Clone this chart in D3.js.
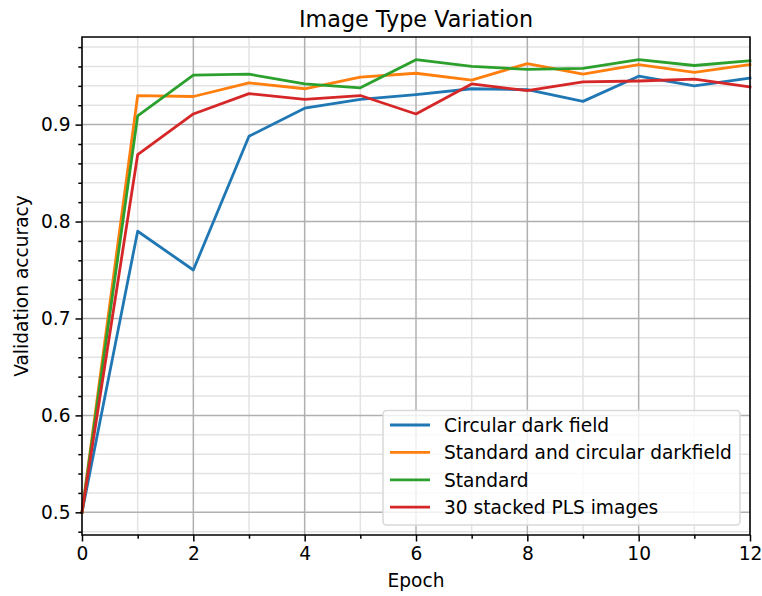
<!DOCTYPE html>
<html>
<head>
<meta charset="utf-8">
<script src="https://cdn.jsdelivr.net/npm/d3@7"></script>
<style>
  body { margin: 0; background: #fff; }
  svg { display: block; font-family: "DejaVu Sans", sans-serif; }
</style>
</head>
<body>
<svg width="762" height="596"></svg>
<script>
var epochs = [0, 1, 2, 3, 4, 5, 6, 7, 8, 9, 10, 11, 12];
var circularDark = [0.5, 0.790, 0.750, 0.888, 0.917, 0.926, 0.931, 0.937, 0.936, 0.924, 0.950, 0.940, 0.948];
var standardAndCircular = [0.5, 0.930, 0.929, 0.943, 0.937, 0.949, 0.953, 0.946, 0.963, 0.952, 0.962, 0.954, 0.962];
var standard = [0.5, 0.909, 0.951, 0.952, 0.942, 0.938, 0.967, 0.960, 0.957, 0.958, 0.967, 0.961, 0.966];
var stackedPLS = [0.5, 0.869, 0.911, 0.932, 0.926, 0.930, 0.911, 0.942, 0.935, 0.944, 0.945, 0.947, 0.939];
var seriesNames = ["Circular dark field", "Standard and circular darkfield", "Standard", "30 stacked PLS images"];
var seriesColors = ["#1f77b4", "#ff7f0e", "#2ca02c", "#d62728"];
var xTicks = [0, 2, 4, 6, 8, 10, 12];
var yTicks = [0.5, 0.6, 0.7, 0.8, 0.9];

var svg = d3.select("svg");
var mLeft = 82, mRight = 750, mTop = 37, mBottom = 535;
var fs = 18.6;

var x = d3.scaleLinear().domain([0, 12]).range([mLeft, mRight]);
var y = d3.scaleLinear().domain([0.4766, 0.9904]).range([mBottom, mTop]);

var allSeries = [circularDark, standardAndCircular, standard, stackedPLS];

// minor grid
var xMinor = d3.range(1, 12, 2);
var yMinor = d3.range(0.48, 0.991, 0.02).filter(function (v) {
    return Math.abs(Math.round(v * 10) / 10 - v) > 1e-6;
});
svg.append("g").selectAll("line").data(xMinor).enter().append("line")
    .attr("x1", function (d) { return x(d); }).attr("x2", function (d) { return x(d); })
    .attr("y1", mTop).attr("y2", mBottom)
    .attr("stroke", "#e3e3e3").attr("stroke-width", 1.5);
svg.append("g").selectAll("line").data(yMinor).enter().append("line")
    .attr("y1", function (d) { return y(d); }).attr("y2", function (d) { return y(d); })
    .attr("x1", mLeft).attr("x2", mRight)
    .attr("stroke", "#e3e3e3").attr("stroke-width", 1.5);

// major grid
svg.append("g").selectAll("line").data(xTicks).enter().append("line")
    .attr("x1", function (d) { return x(d); }).attr("x2", function (d) { return x(d); })
    .attr("y1", mTop).attr("y2", mBottom)
    .attr("stroke", "#b0b0b0").attr("stroke-width", 1.5);
svg.append("g").selectAll("line").data(yTicks).enter().append("line")
    .attr("y1", function (d) { return y(d); }).attr("y2", function (d) { return y(d); })
    .attr("x1", mLeft).attr("x2", mRight)
    .attr("stroke", "#b0b0b0").attr("stroke-width", 1.5);

// lines
var line = d3.line()
    .x(function (d, i) { return x(epochs[i]); })
    .y(function (d) { return y(d); });

svg.append("g").selectAll("path").data(allSeries).enter().append("path")
    .attr("d", line)
    .attr("fill", "none")
    .attr("stroke", function (d, i) { return seriesColors[i]; })
    .attr("stroke-width", 2.8)
    .attr("stroke-linejoin", "round")
    .attr("stroke-linecap", "square");

// axes
var xAxis = svg.append("g").attr("transform", "translate(0," + mBottom + ")")
    .call(d3.axisBottom(x).tickValues(xTicks).tickSize(6.5).tickPadding(5).tickFormat(d3.format("d")));
var xAxisMinor = svg.append("g").attr("transform", "translate(0," + mBottom + ")")
    .call(d3.axisBottom(x).tickValues(xMinor).tickSize(3.7).tickFormat(""));
var yAxis = svg.append("g").attr("transform", "translate(" + mLeft + ",0)")
    .call(d3.axisLeft(y).tickValues(yTicks).tickSize(6.5).tickPadding(5).tickFormat(d3.format(".1f")));
var yAxisMinor = svg.append("g").attr("transform", "translate(" + mLeft + ",0)")
    .call(d3.axisLeft(y).tickValues(yMinor).tickSize(3.7).tickFormat(""));

[xAxis, xAxisMinor, yAxis, yAxisMinor].forEach(function (a) {
    a.select(".domain").remove();
    a.selectAll(".tick line").attr("stroke", "#000").attr("stroke-width", 1.5);
    a.selectAll("text").attr("font-size", fs).attr("fill", "#000")
        .attr("font-family", "DejaVu Sans");
});

// frame
svg.append("rect")
    .attr("x", mLeft).attr("y", mTop)
    .attr("width", mRight - mLeft).attr("height", mBottom - mTop)
    .attr("fill", "none").attr("stroke", "#000").attr("stroke-width", 1.5);

// legend
var legend = svg.append("g");
legend.append("rect")
    .attr("x", 383).attr("y", 410.5).attr("width", 357).attr("height", 114.5)
    .attr("rx", 3.5)
    .attr("fill", "#fff").attr("fill-opacity", 0.8)
    .attr("stroke", "#d9d9d9").attr("stroke-width", 1.5);
var items = legend.selectAll("g.item").data(seriesNames).enter().append("g")
    .attr("transform", function (d, i) { return "translate(0," + (425 + i * 27.4) + ")"; });
items.append("line")
    .attr("x1", 390).attr("x2", 430).attr("y1", 0).attr("y2", 0)
    .attr("stroke", function (d, i) { return seriesColors[i]; })
    .attr("stroke-width", 2.8);
items.append("text")
    .attr("x", 444).attr("y", 0).attr("dy", "0.36em")
    .attr("font-size", fs).attr("fill", "#000")
    .text(function (d) { return d; });

// title and labels
svg.append("text")
    .attr("x", (mLeft + mRight) / 2).attr("y", 27)
    .attr("text-anchor", "middle").attr("font-size", 22.3)
    .text("Image Type Variation");
svg.append("text")
    .attr("x", (mLeft + mRight) / 2).attr("y", 587)
    .attr("text-anchor", "middle").attr("font-size", fs)
    .text("Epoch");
svg.append("text")
    .attr("transform", "translate(28," + ((mTop + mBottom) / 2) + ") rotate(-90)")
    .attr("text-anchor", "middle").attr("font-size", fs)
    .text("Validation accuracy");
</script>
</body>
</html>
